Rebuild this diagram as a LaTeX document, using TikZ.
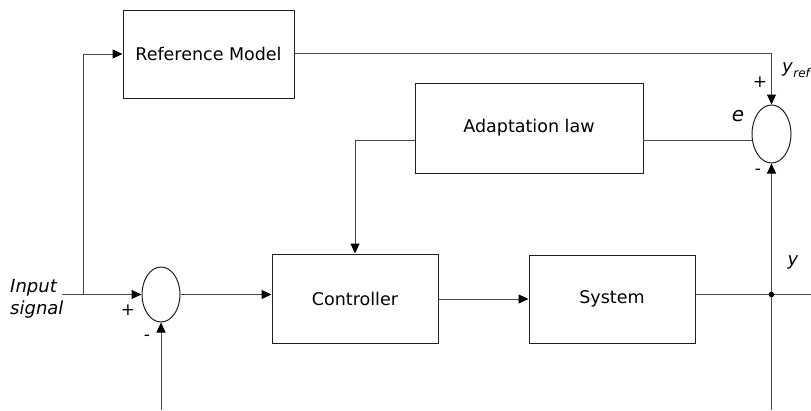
\documentclass[tikz,border=0pt]{standalone}
\usepackage{fontspec}
\setmainfont{DejaVu Sans}
\usetikzlibrary{arrows.meta,shapes.geometric}
\begin{document}
\begin{tikzpicture}[x=1pt,y=-1pt,
  wire/.style={draw=black!72, line width=1pt},
  sig/.style={wire, -{Triangle[length=10pt,width=9pt,color=black]}},
  blockbox/.style={draw=black!88, line width=1pt, inner sep=0pt, fill=white,
    font=\fontsize{17.5}{21}\selectfont},
  sumnode/.style={ellipse, draw=black!88, line width=1pt, inner sep=0pt},
  sign/.style={font=\fontsize{17}{19}\selectfont, inner sep=0pt},
  varlabel/.style={font=\fontsize{18}{21}\selectfont\itshape, inner sep=0pt}
]
\useasboundingbox (0,0) rectangle (811,410);

% blocks
\node[blockbox, minimum width=171pt, minimum height=88pt] (refm) at (208.5,54) {Reference Model};
\node[blockbox, minimum width=228pt, minimum height=90pt] (adapt) at (529,128) {Adaptation law};
\node[blockbox, minimum width=166pt, minimum height=89pt] (ctrl) at (355,298.5) {Controller};
\node[blockbox, minimum width=166pt, minimum height=88pt] (sys) at (612,299) {System};

% summing junctions
\node[sumnode, minimum width=38pt, minimum height=55pt] (sumin) at (161,294.5) {};
\node[sumnode, minimum width=39pt, minimum height=58pt] (sumerr) at (771.5,134) {};

% helper points
\coordinate (inleft) at (62,294.5);
\coordinate (branch) at (83,294.5);
\coordinate (refcorner) at (771.5,53);
\coordinate (outright) at (811,294.5);
\coordinate (tap) at (771.5,294.5);
\coordinate (ybottom) at (771.5,410);
\coordinate (fbbottom) at (161,410);
\coordinate (errleft) at (752,140);
\coordinate (adaptright) at (643,140);
\coordinate (adaptleft) at (415,140);
\coordinate (adaptcorner) at (355,140);

% connectors
\draw[sig] (inleft) -- (sumin.west);
\draw[sig] (branch) |- (refm.west);
\draw[sig] (refm.east |- refcorner) -- (refcorner) -- (sumerr.north);
\draw[sig] (sumin.east) -- (sumin.east -| ctrl.west);
\draw[sig] (ctrl.east |- sys.west) -- (sys.west);
\draw[wire] (sys.east |- tap) -- (outright);
\draw[sig] (ybottom) -- (sumerr.south);
\draw[sig] (fbbottom) -- (sumin.south);
\draw[wire] (errleft) -- (adaptright);
\draw[sig] (adaptleft) -- (adaptcorner) -- (ctrl.north);
\fill[black] (tap) circle (2.8pt);

% labels
\node[varlabel, anchor=base west] (lblin) at (10,292) {Input};
\node[varlabel, anchor=base west] (lblsig) at (10,314) {signal};
\node[sign] (pin) at (128,310) {+};
\node[sign] (min) at (147,338) {-};
\node[sign] (perr) at (760,82) {+};
\node[sign] (merr) at (758,172) {-};
\node[varlabel, font=\fontsize{20}{22}\selectfont\itshape] (lble) at (738,116) {e};
\node[varlabel, anchor=west] (lblyref) at (782,70) {y\kern0.5pt\raisebox{-0.5ex}{\fontsize{12}{13}\selectfont ref}};
\node[varlabel] (lbly) at (793,262) {y};
\end{tikzpicture}
\end{document}
